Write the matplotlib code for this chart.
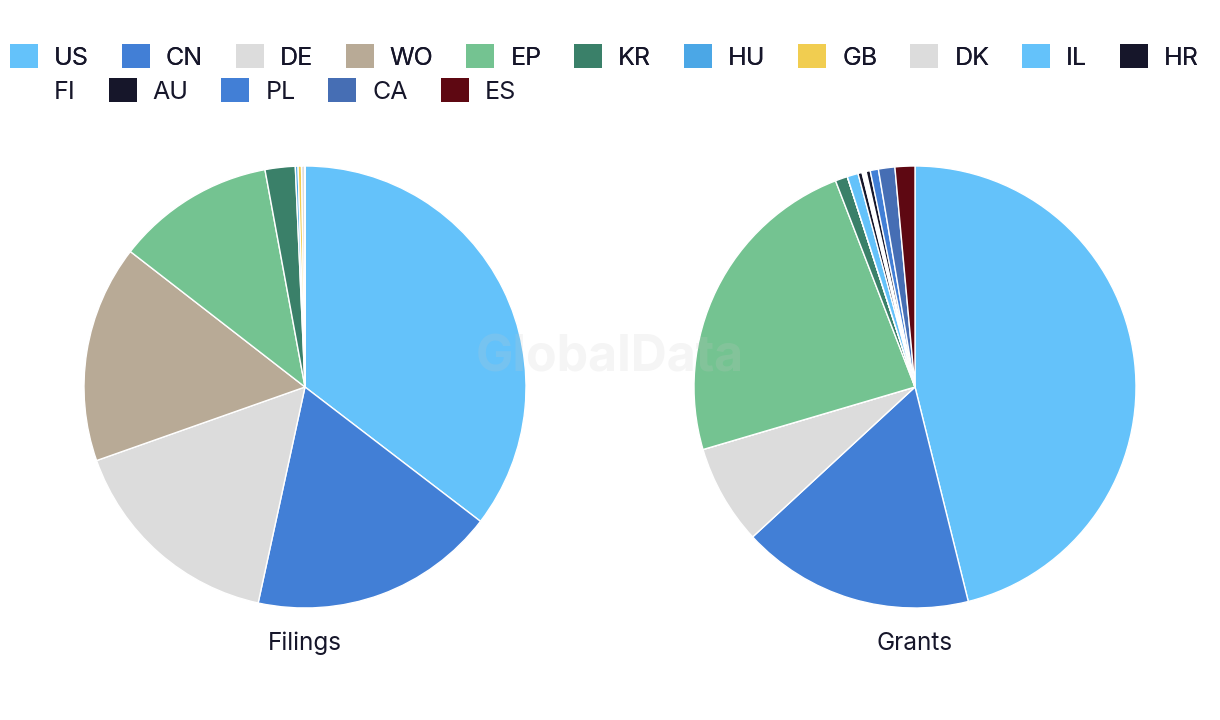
import matplotlib
matplotlib.use("Agg")
import matplotlib.pyplot as plt
from matplotlib.patches import Patch

plt.rcParams['font.family'] = ['Inter', 'DejaVu Sans']

categories = ["US", "CN", "DE", "WO", "EP", "KR", "HU", "GB", "DK", "IL",
              "HR", "FI", "AU", "PL", "CA", "ES"]
colors = ["#64C2FA", "#427FD6", "#DCDCDC", "#B8AA96", "#74C391", "#3A8069",
          "#4BA7E6", "#F1CD50", "#DCDCDC", "#64C2FA", "#16162A", "#FFFFFF",
          "#16162A", "#427FD6", "#466EB4", "#5E0812"]

filings = [35.4, 18.0, 16.2, 15.9, 11.6, 2.2, 0.2, 0.25, 0.25, 0, 0, 0, 0, 0, 0, 0]
grants = [46.1, 17.0, 7.3, 0, 23.7, 0.9, 0, 0, 0, 0.8, 0.3, 0.3, 0.3, 0.6, 1.2, 1.45]

titles = ["Filings", "Grants"]

W, H = 1220, 720
fig = plt.figure(figsize=(W / 100, H / 100), dpi=100)

text_color = "#16162A"
R = 221
centers = [(305, 387), (915, 387)]
for (cx, cy), vals, title in zip(centers, [filings, grants], titles):
    ax = fig.add_axes([(cx - R) / W, (H - cy - R) / H, 2 * R / W, 2 * R / H])
    ax.pie(vals, colors=colors, startangle=90, counterclock=False,
           wedgeprops=dict(edgecolor="white", linewidth=1.0))
    ax.set_aspect("equal")
    ax.set_xlim(-1, 1)
    ax.set_ylim(-1, 1)
    ax.axis("off")
    fig.text(cx / W, 1 - 643 / H, title, ha="center", va="center",
             fontsize=17.5, color=text_color)

fig.text(610 / W, 1 - 358 / H, "GlobalData", ha="center", va="center",
         fontsize=36, fontweight="bold", color="#C8C8C8", alpha=0.18,
         zorder=10)

handles = [Patch(facecolor=c, edgecolor="none") for c in colors]
row1 = slice(0, 11)
row2 = slice(11, 16)
fs = 18
em = fs * 100 / 72
common = dict(frameon=False, fontsize=fs, handlelength=28 / em,
              handleheight=28 / em, handletextpad=16 / em,
              columnspacing=32.8 / em, borderpad=0,
              borderaxespad=0, loc="upper left", labelcolor=text_color)
leg1 = fig.legend(handles[row1], categories[row1], ncol=11,
                  bbox_to_anchor=(10 / W, 1 - 44 / H), **common)
fig.add_artist(leg1)
leg2 = fig.legend(handles[row2], categories[row2], ncol=5,
                  bbox_to_anchor=(10 / W, 1 - 78 / H), **common)

fig.savefig("out.png", dpi=100, facecolor="white")
